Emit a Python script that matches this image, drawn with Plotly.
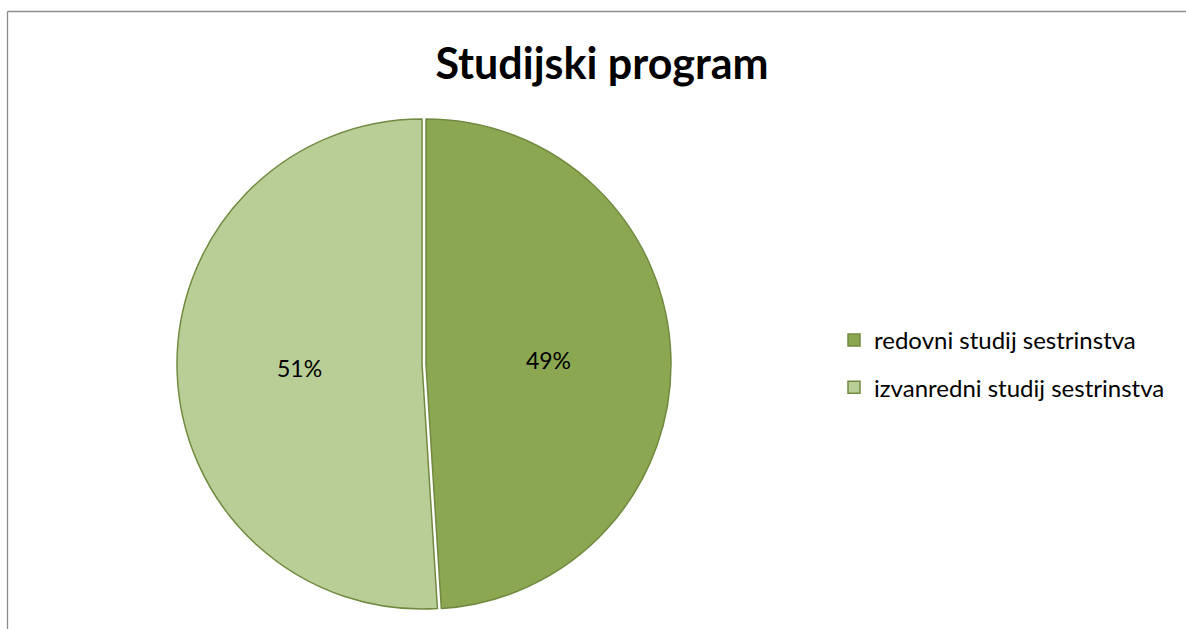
import plotly.graph_objects as go

labels = ["redovni studij sestrinstva", "izvanredni studij sestrinstva"]
values = [49, 51]
fill_colors = ["#8BA752", "#B9CE97"]
line_color = "#728A40"
title_text = "Studijski program"

W, H = 1186, 629

fig = go.Figure()
fig.add_trace(
    go.Pie(
        labels=labels,
        values=values,
        sort=False,
        direction="clockwise",
        rotation=0,
        pull=[0.008, 0.008],
        marker=dict(colors=fill_colors, line=dict(color=line_color, width=1.5)),
        textinfo="percent",
        texttemplate="%{percent:.0%}",
        textposition="inside",
        insidetextorientation="horizontal",
        textfont=dict(family="Lato", size=23, color="#000000"),
        domain=dict(x=[177 / W, 671 / W], y=[(H - 611) / H, (H - 117) / H]),
        hoverinfo="label+percent",
        showlegend=False,
    )
)

# legend entries (same labels/colours as the slices), spaced like the reference
for i, (lab, col) in enumerate(zip(labels, fill_colors)):
    fig.add_trace(
        go.Scatter(
            x=[None], y=[None], mode="markers", name=lab,
            legendgroup="g%d" % i,
            marker=dict(symbol="square", size=12, color=col,
                        line=dict(color=line_color, width=1.5)),
            showlegend=True,
        )
    )

# chart-area frame (left and top edges visible)
fig.add_shape(type="line", xref="paper", yref="paper",
              x0=7.5 / W, x1=7.5 / W, y0=0, y1=1 - 11.5 / H,
              line=dict(color="#8C8C8C", width=1.3))
fig.add_shape(type="line", xref="paper", yref="paper",
              x0=7.5 / W, x1=1, y0=1 - 11.5 / H, y1=1 - 11.5 / H,
              line=dict(color="#8C8C8C", width=1.3))

fig.update_layout(
    width=W,
    height=H,
    margin=dict(l=0, r=0, t=0, b=0),
    paper_bgcolor="white",
    plot_bgcolor="white",
    xaxis=dict(visible=False),
    yaxis=dict(visible=False),
    title=dict(text="<b>" + title_text + "</b>", x=602 / W, xanchor="center",
               y=1 - 64 / H, yanchor="middle",
               font=dict(family="Lato", size=43, color="#000000")),
    legend=dict(x=834 / W, y=1 - 364 / H, xanchor="left", yanchor="middle",
                font=dict(family="Lato", size=24, color="#000000"),
                tracegroupgap=13, itemwidth=30, bgcolor="rgba(0,0,0,0)"),
    showlegend=True,
)

fig.write_html("out.html", config={"displayModeBar": False},
               post_script="document.body.style.margin='0';")
